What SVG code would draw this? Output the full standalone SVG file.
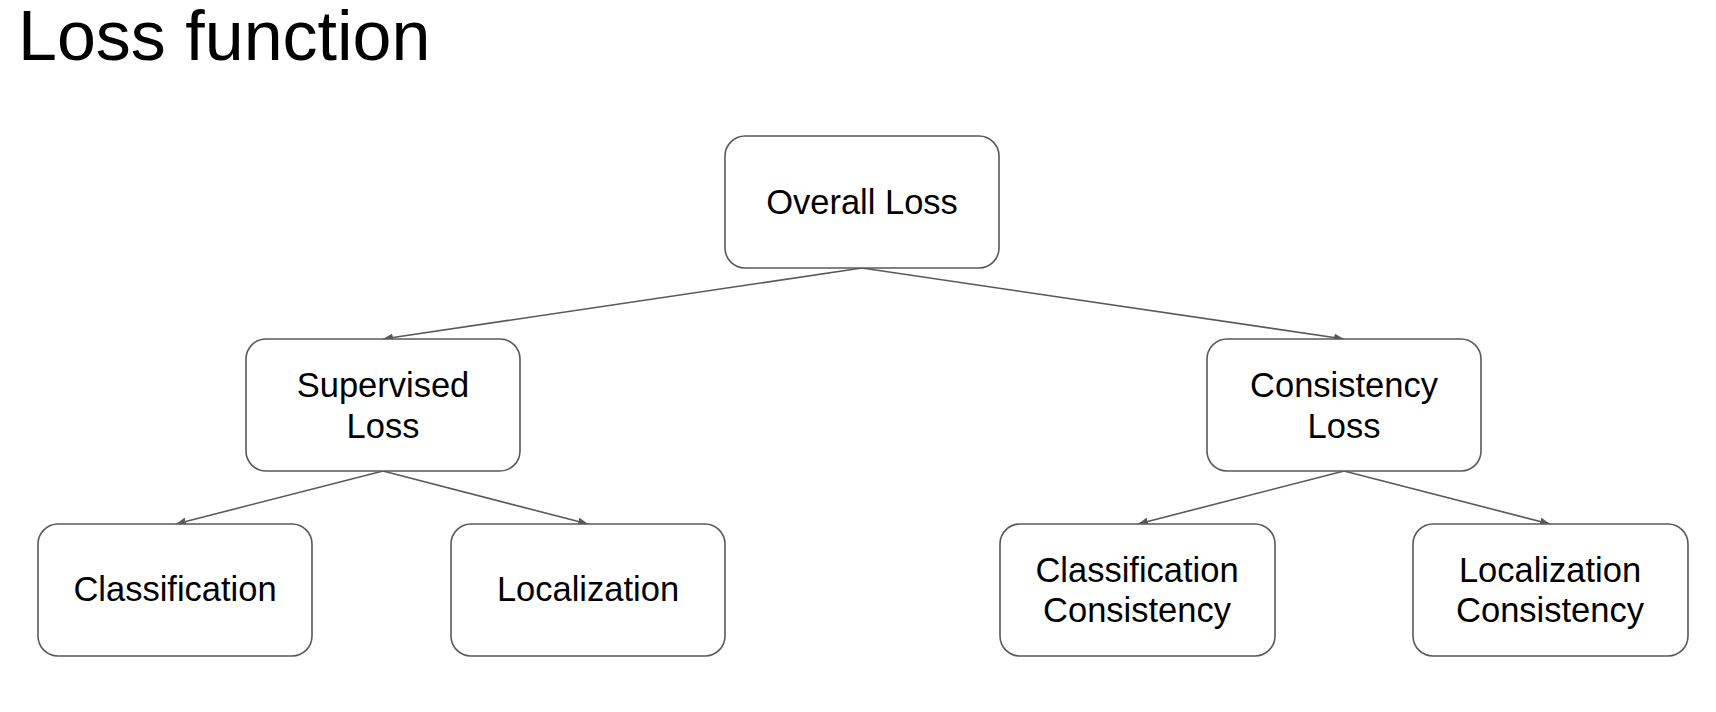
<svg xmlns="http://www.w3.org/2000/svg" width="1716" height="712" viewBox="0 0 1716 712">
<style>
.box{fill:#ffffff;stroke:#595959;stroke-width:1.6}
.lbl{font-family:"Liberation Sans",Arial,sans-serif;font-size:34.5px;fill:#000;text-anchor:middle}
.title{font-family:"Liberation Sans",Arial,sans-serif;font-size:70px;fill:#000}
.edge{stroke:#595959;stroke-width:1.6;fill:none;marker-end:url(#ah)}
</style>
<defs>
<marker id="ah" viewBox="0 0 10 8" refX="10" refY="4" markerWidth="10" markerHeight="8" markerUnits="userSpaceOnUse" orient="auto">
<path d="M0,0 L10,4 L0,8 z" fill="#595959"/>
</marker>
</defs>
<rect width="1716" height="712" fill="#ffffff"/>
<text class="title" x="18" y="60">Loss function</text>
<g id="connectors">
<line class="edge" x1="862" y1="268" x2="383" y2="339"/>
<line class="edge" x1="862" y1="268" x2="1344" y2="339"/>
<line class="edge" x1="383" y1="471" x2="176" y2="524"/>
<line class="edge" x1="383" y1="471" x2="588" y2="524"/>
<line class="edge" x1="1344" y1="471" x2="1138" y2="524"/>
<line class="edge" x1="1344" y1="471" x2="1550" y2="524"/>
</g>
<g id="overall">
<rect class="box" x="725" y="136" width="274" height="132" rx="20"/>
<text class="lbl" x="862" y="214">Overall Loss</text>
</g>
<g id="supervised">
<rect class="box" x="246" y="339" width="274" height="132" rx="20"/>
<text class="lbl" x="383" y="397">Supervised</text>
<text class="lbl" x="383" y="438">Loss</text>
</g>
<g id="consistency">
<rect class="box" x="1207" y="339" width="274" height="132" rx="20"/>
<text class="lbl" x="1344" y="397">Consistency</text>
<text class="lbl" x="1344" y="438">Loss</text>
</g>
<g id="classification">
<rect class="box" x="38" y="524" width="274" height="132" rx="20"/>
<text class="lbl" x="175" y="601">Classification</text>
</g>
<g id="localization">
<rect class="box" x="451" y="524" width="274" height="132" rx="20"/>
<text class="lbl" x="588" y="601">Localization</text>
</g>
<g id="class-consistency">
<rect class="box" x="1000" y="524" width="275" height="132" rx="20"/>
<text class="lbl" x="1137" y="582">Classification</text>
<text class="lbl" x="1137" y="622">Consistency</text>
</g>
<g id="loc-consistency">
<rect class="box" x="1413" y="524" width="275" height="132" rx="20"/>
<text class="lbl" x="1550" y="582">Localization</text>
<text class="lbl" x="1550" y="622">Consistency</text>
</g>
</svg>
